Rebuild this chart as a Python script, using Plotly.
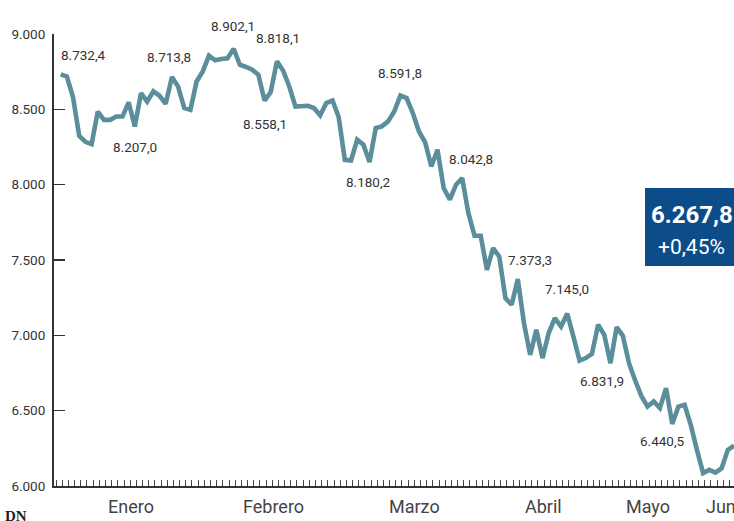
import plotly.graph_objects as go

# ---- data ----
values = [
    8732, 8718, 8580, 8324, 8284, 8269, 8484, 8430, 8430, 8452,
    8452, 8546, 8386, 8608, 8552, 8619, 8590, 8537, 8714, 8652,
    8509, 8497, 8685, 8752, 8856, 8825, 8834, 8838, 8902, 8796,
    8781, 8763, 8730, 8558, 8615, 8818, 8758, 8652, 8519, 8519,
    8524, 8509, 8460, 8542, 8559, 8449, 8165, 8161, 8298, 8265,
    8150, 8376, 8387, 8420, 8486, 8592, 8575, 8475, 8353, 8280,
    8121, 8232, 7977, 7900, 8000, 8043, 7811, 7661, 7661, 7435,
    7579, 7523, 7247, 7203, 7373, 7081, 6870, 7037, 6849, 7015,
    7114, 7058, 7145, 6992, 6832, 6849, 6877, 7070, 7003, 6815,
    7054, 6997, 6815, 6700, 6598, 6527, 6561, 6517, 6650, 6412,
    6527, 6539, 6406, 6240, 6086, 6107, 6089, 6118, 6240, 6268,
]

y_tick_vals = [6000, 6500, 7000, 7500, 8000, 8500, 9000]
y_tick_text = ["6.000", "6.500", "7.000", "7.500", "8.000", "8.500", "9.000"]

months = ["Enero", "Febrero", "Marzo", "Abril", "Mayo", "Junio"]

label_idx = [0, 12, 18, 28, 33, 35, 50, 55, 65, 74, 82, 84, 99]
label_text = ["8.732,4", "8.207,0", "8.713,8", "8.902,1", "8.558,1", "8.818,1",
              "8.180,2", "8.591,8", "8.042,8", "7.373,3", "7.145,0", "6.831,9",
              "6.440,5"]

last_value_text = "6.267,8"
last_change_text = "+0,45%"

# ---- layout / placement (styling only) ----
W, H = 734, 521
L, R, T, B = 54, 0, 34, 35
month_pos = [11.4, 34.5, 57.2, 78.1, 95.1, 108.0]
label_shift = [(23, 19), (0, -20), (-3, 20), (-1, 23), (0, -23), (1, 23),
               (-1, -20), (0, 22), (9, 19), (12, 19), (0, 24), (22, -20),
               (-10, -17)]

LINE = "#5a8e9a"
TXT = "#333333"
NUMFONT = "Roboto, sans-serif"
pw = W - L - R
ph = H - T - B


def px(xp):
    return (xp - L) / pw


def py(yp):
    return (H - B - yp) / ph


x = list(range(len(values)))

fig = go.Figure()
fig.add_trace(go.Scatter(
    x=x, y=values, mode="lines",
    line=dict(color=LINE, width=4.6, shape="linear"),
    hoverinfo="skip", showlegend=False, cliponaxis=True,
))

annotations = []
for i, t, (dx, dy) in zip(label_idx, label_text, label_shift):
    annotations.append(dict(
        x=x[i], y=values[i], xref="x", yref="y", text=t, showarrow=False,
        xshift=dx, yshift=dy, xanchor="center", yanchor="middle",
        font=dict(family=NUMFONT, size=13.5, color=TXT),
    ))

for m, p in zip(months, month_pos):
    annotations.append(dict(
        x=p, y=py(507), xref="x", yref="paper", text=m, showarrow=False,
        xanchor="center", yanchor="middle",
        font=dict(family="Roboto, sans-serif", size=18, color="#444444"),
    ))

annotations.append(dict(
    x=px(649), y=py(215), xref="paper", yref="paper", text=f"<b>{last_value_text}</b>",
    showarrow=False, xanchor="left", yanchor="middle",
    font=dict(family="Roboto, sans-serif", size=24, color="white"),
))
annotations.append(dict(
    x=px(656), y=py(247), xref="paper", yref="paper", text=last_change_text,
    showarrow=False, xanchor="left", yanchor="middle",
    font=dict(family="Roboto, sans-serif", size=21, color="white"),
))
annotations.append(dict(
    x=px(3), y=py(516), xref="paper", yref="paper", text="<b>DN</b>",
    showarrow=False, xanchor="left", yanchor="middle",
    font=dict(family="Liberation Serif, DejaVu Serif, serif", size=15, color="#222222"),
))

shapes = [dict(
    type="rect", xref="paper", yref="paper",
    x0=px(645), x1=px(760), y0=py(266), y1=py(188),
    fillcolor="#0b4c89", line=dict(width=0), layer="above",
)]

n = len(values)
x0 = -6.7 / ((734 - 60.7) / (n - 1))

fig.update_layout(
    width=W, height=H,
    margin=dict(l=L, r=R, t=T, b=B, pad=0),
    paper_bgcolor="white", plot_bgcolor="white",
    showlegend=False,
    annotations=annotations,
    shapes=shapes,
    xaxis=dict(
        range=[x0, n - 1], showgrid=False, zeroline=False,
        showline=True, linecolor="#333333", linewidth=2,
        ticks="inside", ticklen=6, tickwidth=1, tickcolor="#444444",
        tick0=-0.75, dtick=1, showticklabels=False, fixedrange=True,
    ),
    yaxis=dict(
        range=[6000, 9000], showgrid=False, zeroline=False,
        showline=True, linecolor="#333333", linewidth=2,
        ticks="inside", ticklen=11, tickwidth=1.5, tickcolor="#333333",
        tickvals=y_tick_vals, ticktext=y_tick_text,
        tickfont=dict(family=NUMFONT, size=13.5, color=TXT),
        ticklabelstandoff=4, fixedrange=True,
    ),
)

fig.write_html(
    "out.html",
    config={"displayModeBar": False, "staticPlot": True},
    post_script="document.body.style.margin='0';document.body.style.padding='0';"
                "document.body.style.overflow='hidden';",
)
